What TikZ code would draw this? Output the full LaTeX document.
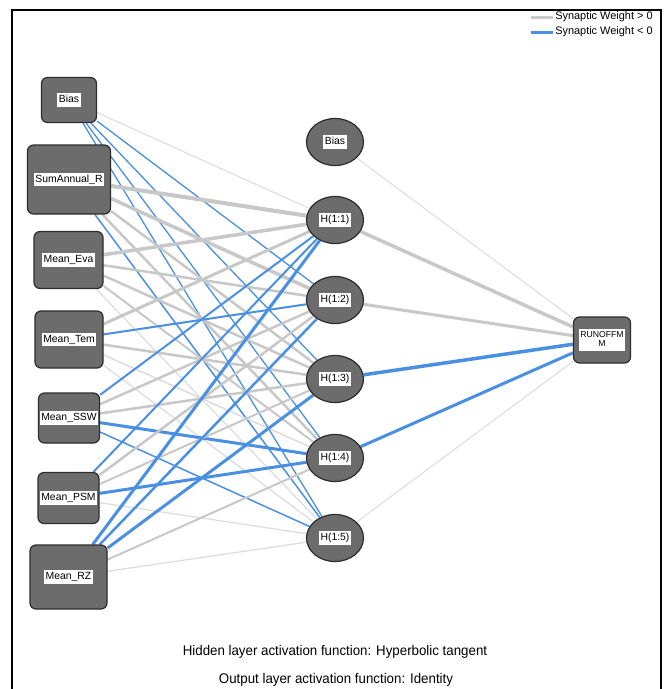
\documentclass[tikz,border=0pt]{standalone}
\usepackage{fontspec}
\setmainfont{Liberation Sans}
\usetikzlibrary{shapes.geometric}
\pgfdeclarelayer{bg}
\pgfsetlayers{bg,main}
\definecolor{nodegray}{RGB}{108,108,108}
\definecolor{nodeedge}{RGB}{45,45,45}
\definecolor{edgepos}{RGB}{200,200,200}
\definecolor{edgeposlight}{RGB}{220,220,220}
\definecolor{edgeneg}{RGB}{74,144,226}
\newdimen\pxu \pxu=0.75pt
\newcommand\lbl[1]{{\setlength{\fboxsep}{1.1pt}\colorbox{white}{\rule[-1.9pt]{0pt}{7.6pt}#1}}}
\begin{document}
\begin{tikzpicture}[x=0.75pt,y=-0.75pt,
  inbox/.style={draw=nodeedge, line width=1.2\pxu, fill=nodegray, rounded corners=6\pxu, inner sep=0pt, font=\fontsize{7.8}{9}\selectfont},
  hid/.style={ellipse, draw=nodeedge, line width=1.2\pxu, fill=nodegray, inner sep=0pt, minimum width=57\pxu, minimum height=47\pxu, font=\fontsize{7.8}{9}\selectfont},
  pos/.style={draw=edgepos, line width=#1\pxu},
  posl/.style={draw=edgeposlight, line width=#1\pxu},
  neg/.style={draw=edgeneg, line width=#1\pxu},
  bottomtext/.style={font=\fontsize{10.5}{12}\selectfont, inner sep=0pt},
  legtext/.style={font=\fontsize{8.2}{10}\selectfont, inner sep=0pt, anchor=west}
]
\useasboundingbox (0,0) rectangle (665,689);
\draw[line width=1.5\pxu, black] (12,689) -- (12,10) -- (661,10) -- (661,689);

% legend
\coordinate (lg1a) at (531,17); \coordinate (lg1b) at (553,17);
\coordinate (lg2a) at (531,32); \coordinate (lg2b) at (553,32);
\draw[pos=3] (lg1a) -- (lg1b);
\draw[neg=3] (lg2a) -- (lg2b);
\node[legtext] (leg1) at (555,17) {Synaptic Weight > 0};
\node[legtext] (leg2) at (555,32) {Synaptic Weight < 0};

% input layer
\node[inbox, minimum width=55\pxu, minimum height=45\pxu] (B) at (69,100) {\lbl{Bias}};
\node[inbox, minimum width=83\pxu, minimum height=69\pxu] (S) at (69,179.5) {\lbl{SumAnnual\_R}};
\node[inbox, minimum width=69\pxu, minimum height=57\pxu] (E) at (68.5,260) {\lbl{Mean\_Eva}};
\node[inbox, minimum width=68\pxu, minimum height=57\pxu] (T) at (69,339.5) {\lbl{Mean\_Tem}};
\node[inbox, minimum width=61\pxu, minimum height=50\pxu] (W) at (69,418) {\lbl{Mean\_SSW}};
\node[inbox, minimum width=61\pxu, minimum height=51\pxu] (P) at (68.5,498) {\lbl{Mean\_PSM}};
\node[inbox, minimum width=77\pxu, minimum height=64\pxu] (R) at (68.5,577) {\lbl{Mean\_RZ}};

% hidden layer
\node[hid] (HB) at (335,142) {\lbl{Bias}};
\node[hid] (H1) at (335,220) {\lbl{H(1:1)}};
\node[hid] (H2) at (335,300) {\lbl{H(1:2)}};
\node[hid] (H3) at (335,379) {\lbl{H(1:3)}};
\node[hid] (H4) at (335,458) {\lbl{H(1:4)}};
\node[hid] (H5) at (335,538) {\lbl{H(1:5)}};

% output
\node[inbox, minimum width=57\pxu, minimum height=46\pxu, font=\fontsize{6.5}{7}\selectfont] (O) at (602,340)
  {{\setlength{\fboxsep}{1.3pt}\colorbox{white}{\begin{tabular}{@{}c@{}}RUNOFFM\\M\end{tabular}}}};

% bottom text
\node[bottomtext] (t1) at (335,652) {\scalebox{0.95}[1]{Hidden layer activation function: Hyperbolic tangent}};
\node[bottomtext] (t2) at (336,680) {\scalebox{0.95}[1]{Output layer activation function: Identity}};

\begin{pgfonlayer}{bg}
\fill[white] (0,0) rectangle (665,689);
% Bias
\draw[posl=1] (B) -- (H1);
\draw[neg=1.3] (B) -- (H2);
\draw[neg=1.3] (B) -- (H3);
\draw[neg=1.3] (B) -- (H4);
\draw[neg=1.3] (B) -- (H5);
% SumAnnual_R
\draw[pos=4] (S) -- (H1);
\draw[pos=3.5] (S) -- (H2);
\draw[pos=2.5] (S) -- (H3);
\draw[pos=2.5] (S) -- (H4);
\draw[neg=1.5] (S) -- (H5);
% Mean_Eva
\draw[pos=3.5] (E) -- (H1);
\draw[pos=2.5] (E) -- (H2);
\draw[pos=2.5] (E) -- (H3);
\draw[pos=2] (E) -- (H4);
\draw[posl=1.2] (E) -- (H5);
% Mean_Tem
\draw[pos=3] (T) -- (H1);
\draw[neg=2] (T) -- (H2);
\draw[pos=2.5] (T) -- (H3);
\draw[posl=1.5] (T) -- (H4);
\draw[posl=1.2] (T) -- (H5);
% Mean_SSW
\draw[neg=2] (W) -- (H1);
\draw[pos=2.5] (W) -- (H2);
\draw[pos=2.5] (W) -- (H3);
\draw[neg=3] (W) -- (H4);
\draw[neg=1.5] (W) -- (H5);
% Mean_PSM
\draw[neg=2] (P) -- (H1);
\draw[pos=2.5] (P) -- (H2);
\draw[pos=2] (P) -- (H3);
\draw[neg=3] (P) -- (H4);
\draw[posl=1.2] (P) -- (H5);
% Mean_RZ
\draw[neg=3] (R) -- (H1);
\draw[neg=2.5] (R) -- (H2);
\draw[neg=3] (R) -- (H3);
\draw[pos=2] (R) -- (H4);
\draw[posl=1.2] (R) -- (H5);
% hidden to output
\draw[posl=1] (HB) -- (O);
\draw[pos=3.5] (H1) -- (O);
\draw[pos=3] (H2) -- (O);
\draw[neg=3.5] (H3) -- (O);
\draw[neg=3] (H4) -- (O);
\draw[posl=1] (H5) -- (O);
\end{pgfonlayer}
\end{tikzpicture}
\end{document}
